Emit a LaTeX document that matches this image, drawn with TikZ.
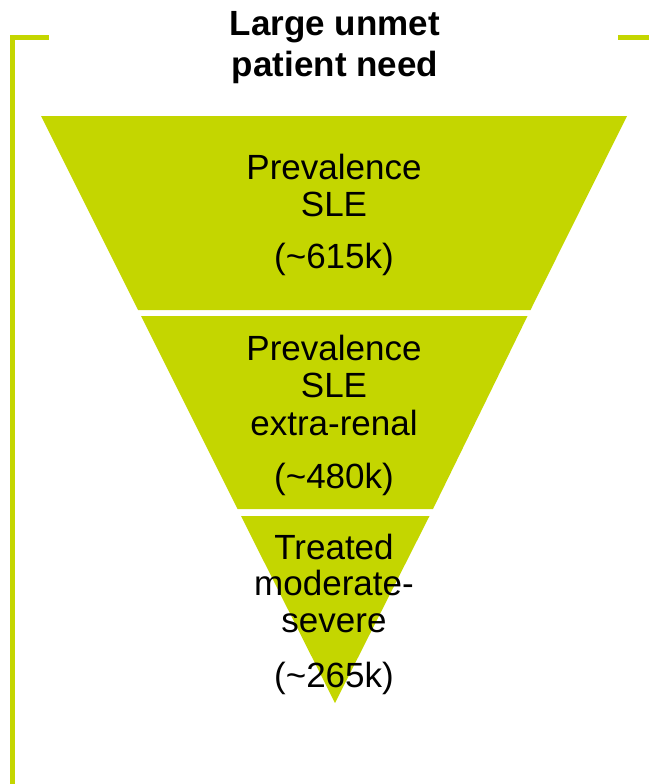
\documentclass[tikz,border=0pt]{standalone}
\usepackage{fontspec}
\setmainfont{Liberation Sans}
\definecolor{lime}{HTML}{C4D600}
\begin{document}
\begin{tikzpicture}[x=1pt,y=-1pt,
  seg/.style={fill=lime,draw=none},
  lbl/.style={anchor=base,inner sep=0pt,font=\fontsize{35}{40}\selectfont},
  ttl/.style={anchor=base,inner sep=0pt,font=\fontsize{35}{40}\selectfont\bfseries},
  bracket/.style={draw=lime,line width=4.5pt}]
\useasboundingbox (0,0) rectangle (649,784);
% bracket
\coordinate (bl) at (12.5,784);
\coordinate (bc) at (12.5,37.5);
\coordinate (be) at (49,37.5);
\coordinate (rs) at (618,37.5);
\coordinate (re) at (649,37.5);
\draw[bracket] (bl) -- (bc) -- (be);
\draw[bracket] (rs) -- (re);
% funnel segments
\fill[seg] (41,116) -- (627,116) -- (530.5,310) -- (138,310) -- cycle;
\fill[seg] (141,316) -- (527.5,316) -- (433,509) -- (237.5,509) -- cycle;
\fill[seg] (241,516) -- (429.5,516) -- (335,703) -- cycle;
% title
\node[ttl] (t1) at (335,36) {Large unmet};
\node[ttl] (t2) at (335,77) {patient need};
% segment 1
\node[lbl] (a1) at (334,179) {Prevalence};
\node[lbl] (a2) at (334,216) {SLE};
\node[lbl] (a3) at (334,268) {(\char"007E 615k)};
% segment 2
\node[lbl] (b1) at (334,360) {Prevalence};
\node[lbl] (b2) at (334,397) {SLE};
\node[lbl] (b3) at (334,435) {extra-renal};
\node[lbl] (b4) at (334,488) {(\char"007E 480k)};
% segment 3
\node[lbl] (c1) at (334,559) {Treated};
\node[lbl] (c2) at (334,595) {moderate-};
\node[lbl] (c3) at (334,632) {severe};
\node[lbl] (c4) at (334,687) {(\char"007E 265k)};
\end{tikzpicture}
\end{document}
